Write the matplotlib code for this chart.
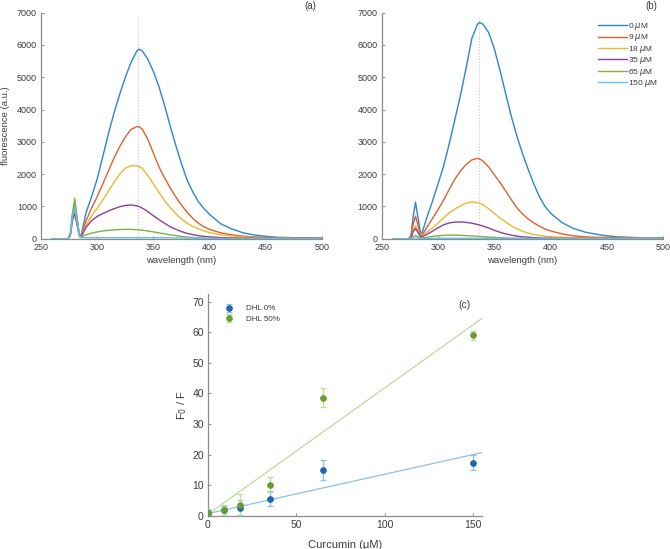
import matplotlib
matplotlib.use('Agg')
import matplotlib.pyplot as plt
import numpy as np

plt.rcParams['font.family'] = ['Liberation Sans', 'DejaVu Sans']

# wavelength grid (nm) shared by all spectra
wl = [260, 274, 276, 278, 280, 282, 284, 285, 286, 290, 295, 300, 305, 310, 315, 320, 325, 330, 335, 337,
      340, 345, 350, 355, 360, 365, 370, 375, 380, 385, 390, 395, 400, 410, 420, 430, 440, 450, 460, 480, 500]

concLabels = ['0 $\\mu$M', '9 $\\mu$M', '18 $\\mu$M', '35 $\\mu$M', '65 $\\mu$M', '150 $\\mu$M']
colors = ['#2a86d0', '#e0602e', '#f0b630', '#8a3f9c', '#7fb23e', '#5cc4f0']

# panel (a) spectra
a0 = [0, 0, 150, 750, 1040, 600, 150, 80, 150, 800, 1300, 1850, 2550, 3250, 3900, 4470, 5000, 5450, 5800, 5870,
      5820, 5560, 5180, 4700, 4120, 3480, 2880, 2320, 1820, 1450, 1150, 930, 750, 460, 300, 180, 115, 75, 45, 25, 20]
a9 = [0, 0, 120, 650, 880, 500, 120, 60, 100, 550, 950, 1300, 1700, 2100, 2500, 2850, 3150, 3380, 3470, 3470,
      3400, 3080, 2650, 2220, 1880, 1570, 1290, 1040, 820, 630, 480, 370, 290, 180, 120, 80, 55, 40, 30, 25, 20]
a18 = [0, 0, 100, 600, 840, 480, 120, 60, 90, 420, 700, 950, 1200, 1480, 1750, 2000, 2180, 2260, 2260, 2240,
       2180, 1960, 1700, 1430, 1180, 960, 770, 610, 480, 380, 310, 240, 190, 120, 85, 55, 40, 30, 25, 20, 20]
a35 = [0, 0, 80, 550, 790, 450, 100, 50, 80, 350, 560, 690, 780, 860, 930, 990, 1030, 1045, 1020, 1000,
       950, 840, 710, 590, 475, 370, 290, 220, 165, 125, 95, 72, 55, 35, 25, 20, 15, 15, 15, 15, 15]
a65 = [0, 0, 100, 800, 1250, 700, 150, 50, 60, 120, 170, 210, 240, 260, 275, 285, 290, 290, 280, 275,
       265, 240, 210, 180, 150, 120, 95, 70, 50, 36, 25, 16, 10, 5, 5, 5, 5, 5, 5, 5, 5]
a150 = [0, 0, 80, 650, 980, 550, 120, 40, 30, 30, 30, 30, 30, 30, 30, 30, 30, 30, 30, 30,
        30, 30, 30, 30, 30, 28, 25, 22, 20, 18, 15, 12, 10, 8, 6, 5, 5, 5, 5, 5, 5]

# panel (b) spectra
b0 = [0, 0, 100, 700, 1130, 700, 250, 170, 200, 650, 1150, 1700, 2250, 2950, 3700, 4450, 5300, 6200, 6640, 6700,
      6640, 6380, 5880, 5220, 4500, 3800, 3180, 2640, 2150, 1700, 1300, 1000, 790, 500, 320, 210, 140, 90, 55, 30, 30]
b9 = [0, 0, 60, 450, 700, 450, 150, 100, 110, 350, 620, 900, 1200, 1530, 1850, 2100, 2300, 2440, 2490, 2470,
      2400, 2220, 1980, 1740, 1480, 1210, 960, 770, 610, 490, 390, 300, 240, 150, 90, 60, 45, 40, 35, 30, 30]
b18 = [0, 0, 40, 280, 400, 260, 100, 70, 80, 200, 330, 480, 650, 800, 920, 1020, 1100, 1140, 1120, 1100,
       1050, 930, 780, 640, 520, 400, 310, 230, 170, 130, 100, 78, 60, 40, 30, 25, 20, 20, 20, 20, 20]
b35 = [0, 0, 30, 220, 320, 210, 80, 50, 60, 130, 230, 340, 430, 490, 515, 520, 505, 480, 440, 420,
       390, 330, 260, 200, 150, 110, 80, 60, 45, 34, 25, 19, 15, 10, 10, 10, 10, 10, 10, 10, 10]
b65 = [0, 0, 10, 70, 100, 60, 20, 10, 15, 40, 70, 90, 105, 112, 110, 105, 95, 85, 75, 70,
       62, 50, 40, 30, 22, 16, 12, 8, 5, 4, 3, 3, 3, 3, 3, 3, 3, 3, 3, 3, 3]
b150 = [0, 0, 5, 20, 30, 20, 10, 8, 8, 10, 12, 12, 12, 12, 12, 12, 12, 12, 12, 12,
        12, 12, 12, 12, 12, 10, 10, 10, 8, 8, 8, 7, 6, 5, 5, 5, 5, 5, 5, 5, 5]

peakWl = 336.5

# panel (c) Stern-Volmer data
curcumin = [0, 9, 18, 35, 65, 150]
f0f_dhl0 = [1.0, 1.85, 2.7, 5.7, 15.1, 17.4]
err_dhl0 = [1.3, 1.5, 2.5, 2.4, 3.2, 2.4]
f0f_dhl50 = [1.0, 1.85, 3.7, 10.2, 38.6, 59.0]
err_dhl50 = [0.8, 1.6, 3.4, 2.5, 3.1, 1.5]
fitX = [0, 155]
fit_dhl0 = [0.8, 20.7]
fit_dhl50 = [0.6, 64.5]

axisGray = '#8c8c8c'
textGray = '#3c3c3c'


def styleAxes(ax, fs):
    for s in ['top', 'right']:
        ax.spines[s].set_visible(False)
    for s in ['left', 'bottom']:
        ax.spines[s].set_color(axisGray)
        ax.spines[s].set_linewidth(0.9)
    ax.tick_params(direction='in', length=2.5, width=0.7, color=axisGray, labelcolor=textGray,
                   labelsize=fs, pad=3)


fig = plt.figure(figsize=(6.7, 5.49), dpi=100)

spectraA = [a0, a9, a18, a35, a65, a150]
spectraB = [b0, b9, b18, b35, b65, b150]

axA = fig.add_axes([0.0612, 0.5652, 0.4194, 0.4117])
axB = fig.add_axes([0.5697, 0.5652, 0.4203, 0.4117])

for ax, spectra, tag in [(axA, spectraA, '(a)'), (axB, spectraB, '(b)')]:
    ax.axvline(peakWl, ymin=0, ymax=0.99, color='#c8c8c8', lw=0.8, ls=':')
    for i in range(len(spectra)):
        ax.plot(wl, spectra[i], color=colors[i], lw=1.0, label=concLabels[i])
    ax.set_xlim(250, 500)
    ax.set_ylim(0, 7000)
    ax.set_xticks([250, 300, 350, 400, 450, 500])
    ax.set_yticks(np.arange(0, 7001, 1000))
    styleAxes(ax, 6.5)
    ax.set_xlabel('wavelength (nm)', fontsize=6.8, color=textGray, labelpad=3)
    ax.text(0.98, 1.03, tag, transform=ax.transAxes, fontsize=7, color=textGray, ha='right', va='center')

axA.set_ylabel('fluorescence (a.u.)', fontsize=6.8, color=textGray, labelpad=5)
leg = axB.legend(loc='upper right', bbox_to_anchor=(1.0, 0.985), frameon=False, fontsize=6,
                 handlelength=3.4, handletextpad=0.2, labelspacing=0.05, borderaxespad=0.2)
for t in leg.get_texts():
    t.set_color(textGray)

# panel (c)
axC = fig.add_axes([0.3104, 0.0601, 0.409, 0.404])
axC.plot(fitX, fit_dhl0, color='#8dc0ea', lw=0.9, zorder=1)
axC.plot(fitX, fit_dhl50, color='#bfdc98', lw=0.9, zorder=1)
axC.errorbar(curcumin, f0f_dhl0, yerr=err_dhl0, fmt='o', color='#1f64ab', ms=3.8,
             ecolor='#8dc0ea', elinewidth=0.9, capsize=2, capthick=0.9, label='DHL 0%', zorder=3)
axC.errorbar(curcumin, f0f_dhl50, yerr=err_dhl50, fmt='o', color='#6a9b32', ms=3.8,
             ecolor='#bfdc98', elinewidth=0.9, capsize=2, capthick=0.9, label='DHL 50%', zorder=3)
axC.set_xlim(0, 155)
axC.set_ylim(0, 72.4)
axC.set_xticks([0, 50, 100, 150])
axC.set_yticks(np.arange(0, 71, 10))
styleAxes(axC, 7.5)
axC.set_xlabel('Curcumin (\u03bcM)', fontsize=8, color=textGray, labelpad=7)
axC.set_ylabel('F$_0$ / F', fontsize=8, color=textGray, labelpad=2)
axC.text(0.935, 0.95, '(c)', transform=axC.transAxes, fontsize=7.5, color=textGray, ha='center', va='center')
legC = axC.legend(loc='upper left', bbox_to_anchor=(0.02, 0.985), frameon=False, fontsize=5.8,
                  handletextpad=1.2, labelspacing=0.4)
for t in legC.get_texts():
    t.set_color(textGray)

fig.savefig('out.png', dpi=100)
